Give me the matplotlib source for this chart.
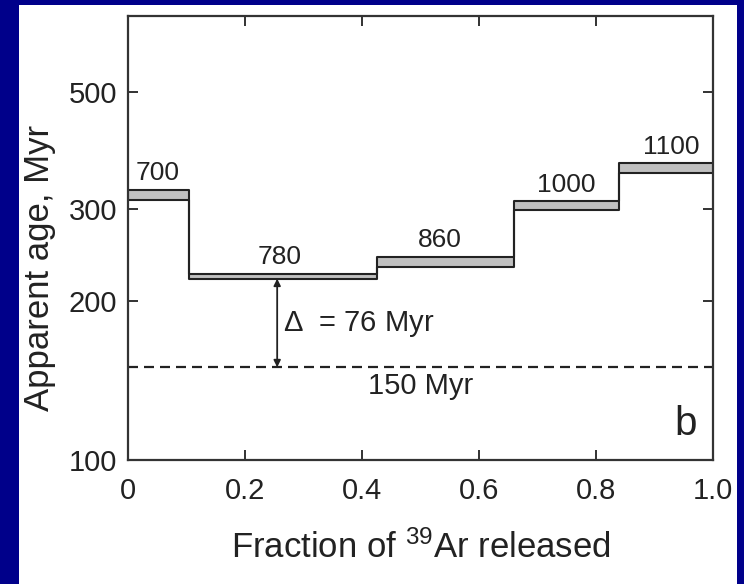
import matplotlib.pyplot as plt
from matplotlib.patches import Rectangle

plt.rcParams['font.family'] = ['Liberation Sans', 'DejaVu Sans']
plt.rcParams['mathtext.default'] = 'regular'

# step spectrum: fraction of 39Ar released vs apparent age
edges = [0, 0.104, 0.426, 0.66, 0.84, 1.0]
age_hi = [326, 226, 243, 310, 366]
age_lo = [312, 221, 233, 298, 351]
temps = ['700', '780', '860', '1000', '1100']
temp_x = [0.05, 0.26, 0.533, 0.749, 0.928]
true_age = 150
delta_x = 0.255

fig = plt.figure(figsize=(7.44, 5.84), dpi=100)
fig.patch.set_facecolor('#00008a')
fig.patches.append(Rectangle((19 / 744, 0), (737 - 19) / 744, 1 - 5 / 584,
                             transform=fig.transFigure, facecolor='white',
                             edgecolor='none', zorder=-10))

ax = fig.add_axes([128 / 744, 1 - 460 / 584, (713 - 128) / 744, (460 - 16) / 584])
ax.set_facecolor('white')

xs = edges
hi = age_hi + [age_hi[-1]]
lo = age_lo + [age_lo[-1]]
ax.fill_between(xs, lo, hi, step='post', color='#c0c0c0', lw=0)
ax.step(xs, hi, where='post', color='#222222', lw=1.5)
ax.step(xs, lo, where='post', color='#222222', lw=1.5)

for t, x, h in zip(temps, temp_x, age_hi):
    ax.text(x, h * 1.02, t, ha='center', va='bottom', fontsize=19, color='#222222')

ax.axhline(true_age, color='#222222', lw=1.6, ls=(0, (4.5, 2.7)))
ax.annotate('', xy=(delta_x, true_age), xytext=(delta_x, age_lo[1]),
            arrowprops=dict(arrowstyle='<|-|>', color='#222222', lw=1.3,
                            mutation_scale=10, shrinkA=0, shrinkB=0))
ax.text(delta_x + 0.01, 181, '$\\Delta$  = 76 Myr', ha='left', va='center',
        fontsize=21, color='#222222')
ax.text(0.5, 138.5, '150 Myr', ha='center', va='center', fontsize=21, color='#222222')
ax.text(0.954, 117, 'b', ha='center', va='center', fontsize=29, color='#222222')

ax.set_yscale('log')
ax.set_xlim(0, 1)
ax.set_ylim(100, 697)
ax.set_yticks([100, 200, 300, 500])
ax.set_yticklabels(['100', '200', '300', '500'])
ax.yaxis.set_minor_locator(plt.NullLocator())
ax.set_xticks([0, 0.2, 0.4, 0.6, 0.8, 1.0])
ax.set_xticklabels(['0', '0.2', '0.4', '0.6', '0.8', '1.0'])
ax.tick_params(direction='in', length=7, width=1.3, top=True, right=True,
               labelsize=21, colors='#222222')
ax.tick_params(axis='x', pad=12)
ax.tick_params(axis='y', pad=8)
for s in ax.spines.values():
    s.set_linewidth(1.6)
    s.set_color('#333333')

ax.set_xlabel('Fraction of $^{39}$Ar released', fontsize=25, color='#222222')
ax.set_ylabel('Apparent age, Myr', fontsize=25, color='#222222')
ax.xaxis.set_label_coords(0.5, (460 - 548) / 444)
ax.xaxis.label.set_va('center')
ax.yaxis.set_label_coords((39 - 128) / 585, (460 - 268) / 444)
ax.yaxis.label.set_va('center')

fig.savefig('out.png', dpi=100, facecolor=fig.get_facecolor())
